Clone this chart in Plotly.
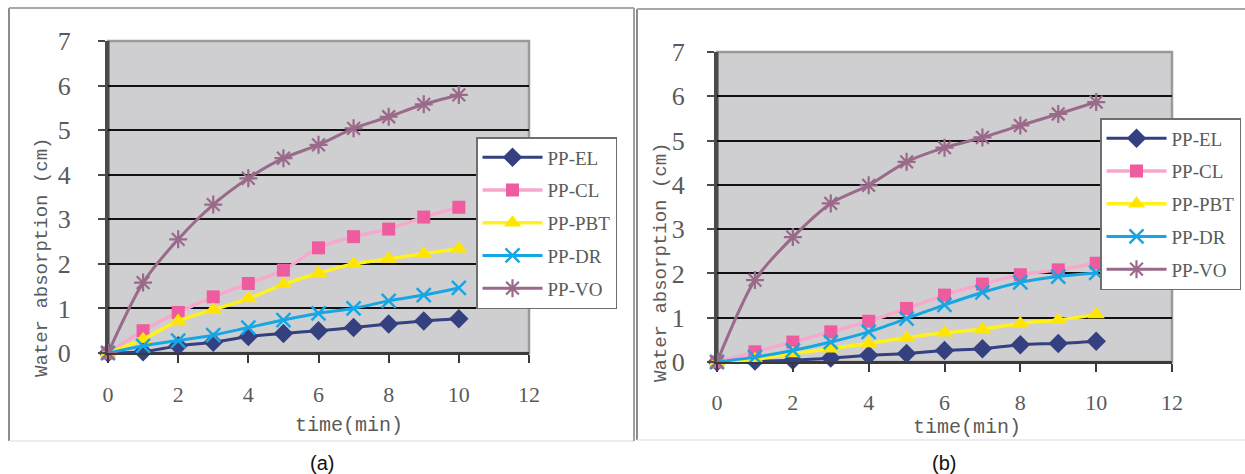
import plotly.graph_objects as go

# ---------------- data ----------------
time_min = [0, 1, 2, 3, 4, 5, 6, 7, 8, 9, 10]
series_names = ["PP-EL", "PP-CL", "PP-PBT", "PP-DR", "PP-VO"]

a_EL = [0, 0.03, 0.16, 0.24, 0.37, 0.44, 0.50, 0.57, 0.65, 0.72, 0.77]
a_CL = [0, 0.50, 0.91, 1.26, 1.56, 1.86, 2.36, 2.61, 2.78, 3.05, 3.27]
a_PBT = [0, 0.31, 0.72, 0.97, 1.22, 1.54, 1.79, 2.00, 2.11, 2.23, 2.34]
a_DR = [0, 0.16, 0.28, 0.40, 0.57, 0.74, 0.89, 1.00, 1.17, 1.30, 1.46]
a_VO = [0, 1.58, 2.55, 3.33, 3.92, 4.37, 4.67, 5.04, 5.30, 5.58, 5.79]

b_EL = [0, 0.02, 0.04, 0.09, 0.15, 0.19, 0.26, 0.30, 0.39, 0.42, 0.47]
b_CL = [0, 0.23, 0.45, 0.68, 0.92, 1.21, 1.51, 1.76, 1.97, 2.08, 2.23]
b_PBT = [0, 0.06, 0.19, 0.30, 0.42, 0.55, 0.66, 0.74, 0.87, 0.95, 1.07]
b_DR = [0, 0.11, 0.26, 0.45, 0.68, 0.98, 1.29, 1.57, 1.80, 1.93, 2.01]
b_VO = [0, 1.85, 2.82, 3.58, 3.99, 4.52, 4.84, 5.07, 5.34, 5.60, 5.87]

x_ticks = [0, 2, 4, 6, 8, 10, 12]
y_ticks = [0, 1, 2, 3, 4, 5, 6, 7]
x_title = "time(min)"
y_title = "Water absorption (cm)"
panel_labels = ["(a)", "(b)"]

# ---------------- styles ----------------
W, H = 1245, 474
MONO = "Liberation Mono, DejaVu Sans Mono, monospace"
SERIF = "Liberation Serif, DejaVu Serif, serif"
TXT = "#5a5a5a"

styles = {
    "PP-EL": dict(line=dict(color="#34407f", width=3),
                  marker=dict(symbol="diamond", size=15, color="#34407f")),
    "PP-CL": dict(line=dict(color="#f6a9cc", width=3.5),
                  marker=dict(symbol="square", size=13, color="#ee5b9e")),
    "PP-PBT": dict(line=dict(color="#fff21c", width=3.5),
                   marker=dict(symbol="triangle-up", size=15, color="#ffe600")),
    "PP-DR": dict(line=dict(color="#16a6e4", width=3),
                  marker=dict(symbol="x-thin-open", size=14,
                              line=dict(color="#109fe0", width=2.5))),
    "PP-VO": dict(line=dict(color="#9a6a8a", width=3),
                  marker=dict(symbol="asterisk-open", size=15,
                              line=dict(color="#8e5f80", width=2.2))),
}

def px2x(p):
    return p / W

def px2y(p):
    return 1 - p / H

panels = [
    dict(data=[a_EL, a_CL, a_PBT, a_DR, a_VO], xa="x", ya="y", legend="legend",
         plot=(108, 529, 41, 353), xstand=13, ystand=22),
    dict(data=[b_EL, b_CL, b_PBT, b_DR, b_VO], xa="x2", ya="y2", legend="legend2",
         plot=(717, 1172, 52, 362), xstand=12, ystand=17),
]

fig = go.Figure()
for pi, p in enumerate(panels):
    for name, vals in zip(series_names, p["data"]):
        st = styles[name]
        fig.add_trace(go.Scatter(
            x=time_min, y=vals, name=name, mode="lines+markers",
            line=dict(st["line"], shape="spline", smoothing=0.8),
            marker=st["marker"], xaxis=p["xa"], yaxis=p["ya"],
            legend=p["legend"], legendgroup=f"{pi}-{name}",
            cliponaxis=False,
        ))

layout = dict(
    width=W, height=H, margin=dict(l=0, r=0, t=0, b=0, autoexpand=False),
    paper_bgcolor="white", plot_bgcolor="#cfcfd1",
    font=dict(family=SERIF, color=TXT),
    showlegend=True,
)

for pi, p in enumerate(panels):
    l, r, t, b = p["plot"]
    sfx = "" if pi == 0 else "2"
    layout["xaxis" + sfx] = dict(
        domain=[px2x(l), px2x(r)], anchor="y" + sfx, range=[0, 12],
        tickvals=x_ticks, ticktext=[str(v) for v in x_ticks],
        showgrid=False, zeroline=False, showline=True, linecolor="#3a3a3a",
        linewidth=2, ticks="outside", ticklen=8, tickwidth=1.5, tickcolor="#3a3a3a",
        tickfont=dict(size=22, family=SERIF, color=TXT),
        ticklabelstandoff=p["xstand"], automargin=False,
    )
    layout["yaxis" + sfx] = dict(
        domain=[px2y(b), px2y(t)], anchor="x" + sfx, range=[0, 7],
        tickvals=y_ticks, ticktext=[str(v) for v in y_ticks],
        showgrid=True, gridcolor="#111111", gridwidth=1.5,
        zeroline=False, showline=True, linecolor="#4a4a4a", linewidth=3,
        ticks="outside", ticklen=7, tickwidth=1.5, tickcolor="#4a4a4a",
        tickfont=dict(size=26, family=SERIF, color=TXT),
        ticklabelstandoff=p["ystand"], automargin=False,
    )

legend_common = dict(
    bgcolor="white", bordercolor="#6e6e6e", borderwidth=1.5,
    font=dict(size=19, family=SERIF, color=TXT),
    itemwidth=60, tracegroupgap=5, traceorder="grouped",
    xanchor="left", yanchor="top",
)
layout["legend"] = dict(legend_common, x=px2x(476), y=px2y(137))
layout["legend2"] = dict(legend_common, x=px2x(1100), y=px2y(118))

shapes = []
for p in panels:
    l, r, t, b = p["plot"]
    shapes.append(dict(type="rect", xref="paper", yref="paper",
                       x0=px2x(l), x1=px2x(r), y0=px2y(b), y1=px2y(t),
                       line=dict(color="#9a9a9a", width=2.5), layer="between"))
    shapes.append(dict(type="line", xref="paper", yref="paper",
                       x0=px2x(l), x1=px2x(r), y0=px2y(b), y1=px2y(b),
                       line=dict(color="#3a3a3a", width=2), layer="between"))
    shapes.append(dict(type="line", xref="paper", yref="paper",
                       x0=px2x(l), x1=px2x(l), y0=px2y(b), y1=px2y(t),
                       line=dict(color="#4a4a4a", width=3), layer="between"))
frames = [(9, 634, 8, 441), (637, 1250, 9, 440)]
for (fl, fr, ft, fb) in frames:
    shapes.append(dict(type="line", xref="paper", yref="paper",
                       x0=px2x(fl), x1=px2x(fl), y0=px2y(fb), y1=px2y(ft),
                       line=dict(color="#8c8c8c", width=2)))
    shapes.append(dict(type="line", xref="paper", yref="paper",
                       x0=px2x(fl), x1=px2x(fr), y0=px2y(ft), y1=px2y(ft),
                       line=dict(color="#a8a8a8", width=2)))
    shapes.append(dict(type="line", xref="paper", yref="paper",
                       x0=px2x(fl), x1=px2x(fr), y0=px2y(fb), y1=px2y(fb),
                       line=dict(color="#e6e6e6", width=1.5)))
shapes.append(dict(type="line", xref="paper", yref="paper",
                   x0=px2x(634), x1=px2x(634), y0=px2y(441), y1=px2y(8),
                   line=dict(color="#a0a0a0", width=2)))
layout["shapes"] = shapes

def ann(text, x, y, size, family, color=TXT, angle=0):
    return dict(text=text, textangle=angle, x=px2x(x), y=px2y(y),
                xref="paper", yref="paper", xanchor="center", yanchor="middle",
                showarrow=False, font=dict(size=size, family=family, color=color))

layout["annotations"] = [
    ann(y_title, 42, 258, 19, MONO, angle=-90),
    ann(x_title, 349, 425, 20, MONO),
    ann(y_title, 661, 263, 19, MONO, angle=-90),
    ann(x_title, 967, 427, 20, MONO),
    ann(panel_labels[0], 322, 463, 20, "Liberation Sans, Arial", "#111"),
    ann(panel_labels[1], 944, 463, 20, "Liberation Sans, Arial", "#111"),
]

fig.update_layout(**layout)
fig.write_html("out.html")
